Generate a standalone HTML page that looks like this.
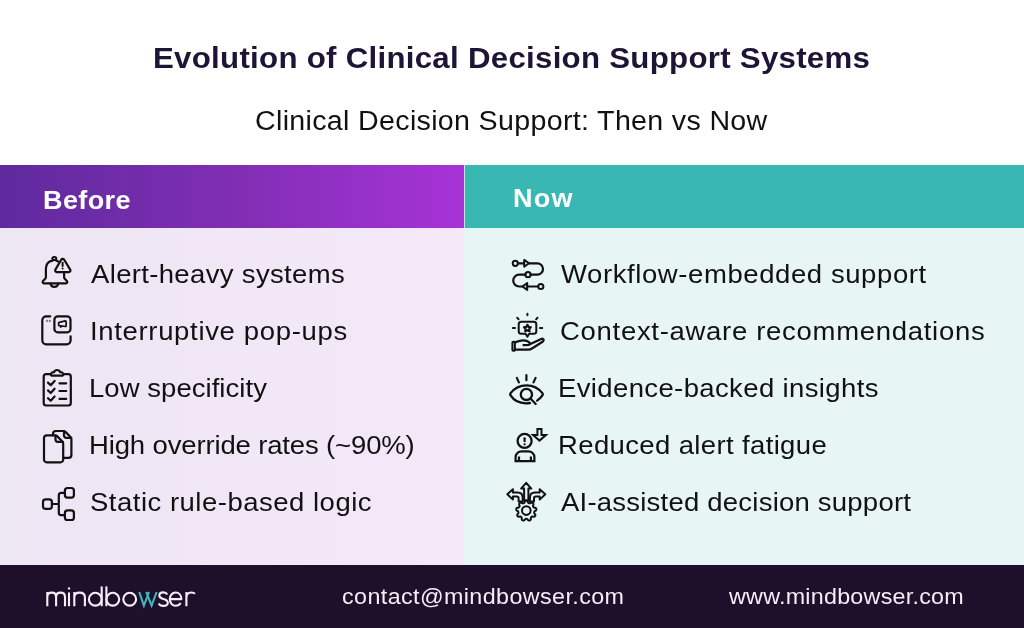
<!DOCTYPE html>
<html>
<head>
<meta charset="utf-8">
<style>
html,body{margin:0;padding:0;}
body{width:1024px;height:628px;overflow:hidden;position:relative;background:#fff;font-family:"Liberation Sans",sans-serif;}
.t{position:absolute;white-space:nowrap;line-height:1;transform-origin:0 0;will-change:transform;}
#hl{position:absolute;left:0;top:165px;width:464px;height:63px;background:linear-gradient(90deg,#5f2a9e 0%,#7f2eb3 50%,#a833d7 100%);}
#hr{position:absolute;left:465px;top:165px;width:559px;height:63px;background:#38b7b3;}
#hdiv{position:absolute;left:464px;top:165px;width:1px;height:63px;background:#c7e3f2;}
#bl{position:absolute;left:0;top:228px;width:464px;height:337px;background:linear-gradient(90deg,#ede6f3 0%,#f5e8f9 100%);}
#br{position:absolute;left:464px;top:228px;width:560px;height:337px;background:#e7f5f5;}
#ft{position:absolute;left:0;top:565px;width:1024px;height:63px;background:#1e0f2a;}
.title{font-size:30px;font-weight:700;color:#1d1535;}
.sub{font-size:27px;color:#111;}
.hd{font-size:26px;font-weight:700;color:#fff;}
.li{font-size:25px;color:#111;}
.fo{font-size:22px;color:#f3eef7;}
svg{position:absolute;left:0;top:0;}
</style>
</head>
<body>
<div id="hl"></div><div id="hr"></div><div id="hdiv"></div>
<div id="bl"></div><div id="br"></div>
<div id="ft"></div>
<div class="t title" style="left:152.92px;top:43px;letter-spacing:0.279px;transform:scaleX(1.04);">Evolution of Clinical Decision Support Systems</div>
<div class="t sub" style="left:254.94px;top:107.5px;letter-spacing:0.299px;transform:scaleX(1.06);">Clinical Decision Support: Then vs Now</div>
<div class="t hd" style="left:42.92px;top:187px;letter-spacing:0.346px;transform:scaleX(1.04);">Before</div>
<div class="t hd" style="left:512.92px;top:185px;letter-spacing:1.24px;transform:scaleX(1.04);">Now</div>
<div class="t li" style="left:91.0px;top:262px;letter-spacing:0.308px;transform:scaleX(1.1);">Alert-heavy systems</div>
<div class="t li" style="left:560.5px;top:262px;letter-spacing:0.534px;transform:scaleX(1.1);">Workflow-embedded support</div>
<div class="t li" style="left:89.5px;top:318.5px;letter-spacing:0.603px;transform:scaleX(1.1);">Interruptive pop-ups</div>
<div class="t li" style="left:559.7px;top:318.5px;letter-spacing:0.636px;transform:scaleX(1.1);">Context-aware recommendations</div>
<div class="t li" style="left:89.3px;top:375.5px;letter-spacing:0.039px;transform:scaleX(1.1);">Low specificity</div>
<div class="t li" style="left:558.3px;top:375.5px;letter-spacing:0.34px;transform:scaleX(1.1);">Evidence-backed insights</div>
<div class="t li" style="left:88.8px;top:432.5px;letter-spacing:-0.131px;transform:scaleX(1.1);">High override rates (~90%)</div>
<div class="t li" style="left:558.3px;top:432.5px;letter-spacing:0.332px;transform:scaleX(1.1);">Reduced alert fatigue</div>
<div class="t li" style="left:89.9px;top:489.5px;letter-spacing:0.455px;transform:scaleX(1.1);">Static rule-based logic</div>
<div class="t li" style="left:560.5px;top:489.5px;letter-spacing:0.202px;transform:scaleX(1.1);">AI-assisted decision support</div>
<div class="t fo" style="left:342.44px;top:586px;letter-spacing:0.366px;transform:scaleX(1.06);">contact@mindbowser.com</div>
<div class="t fo" style="left:729.0px;top:586px;letter-spacing:0.224px;transform:scaleX(1.06);">www.mindbowser.com</div>
<svg width="1024" height="628" viewBox="0 0 1024 628" fill="none" stroke="#111" stroke-width="2.2" stroke-linecap="round" stroke-linejoin="round">
<!-- L1 bell -->
<ellipse cx="54.3" cy="258.5" rx="2" ry="1.6" stroke-width="2"/>
<path d="M52.6 260.6 C48.2 261.4 45.9 264.6 45.9 268.8 L45.9 277.2 C45.9 279.4 42.6 280.2 42.6 282 C42.6 282.9 43.2 283.3 44 283.3 L66 283.3 C66.8 283.3 67.3 282.9 67.3 282 C67.3 280.2 64.1 279.4 64.1 277.2 L64.1 272.9"/>
<path d="M56.1 260.6 C57 260.8 57.7 261.2 58.3 261.7"/>
<path d="M50.5 283.6 A3.9 3.9 0 0 0 58.2 283.6"/>
<path d="M61.2 259.8 L55.4 269.6 C54.7 270.8 55.4 272.1 56.8 272.1 L68.8 272.1 C70.2 272.1 70.9 270.8 70.2 269.6 L64.2 259.8 C63.5 258.6 61.9 258.6 61.2 259.8 Z"/>
<path d="M62.6 262.8 L62.6 265.9" stroke-width="2"/>
<circle cx="62.6" cy="268.4" r="1" fill="#111" stroke="none"/>
<!-- L2 popup -->
<path d="M50.3 316.3 L46.3 316.3 A4 4 0 0 0 42.3 320.3 L42.3 340.3 A4 4 0 0 0 46.3 344.3 L66.6 344.3 A4 4 0 0 0 70.6 340.3 L70.6 336.4"/>
<rect x="54.4" y="316.4" width="16.1" height="15.9" rx="3.4"/>
<path d="M59.2 322.3 L65.3 320.9 Q66.1 320.8 66.1 321.6 L66.1 325.9 Q66.1 326.6 65.3 326.5 L59.2 325.6 Q58.6 325.5 58.6 324.9 L58.6 323 Q58.6 322.4 59.2 322.3 Z M60.4 325.8 L60.7 327.1" stroke-width="1.7"/>
<circle cx="47" cy="320.9" r="0.5" stroke="#777" stroke-width="1.2"/>
<circle cx="49.8" cy="320.9" r="0.5" stroke="#777" stroke-width="1.2"/>
<!-- L3 clipboard -->
<path d="M49.8 374.2 L46.2 374.2 A2.5 2.5 0 0 0 43.7 376.7 L43.7 403 A2.5 2.5 0 0 0 46.2 405.5 L68.3 405.5 A2.5 2.5 0 0 0 70.8 403 L70.8 376.7 A2.5 2.5 0 0 0 68.3 374.2 L64.5 374.2"/>
<path d="M52 375.7 L62.2 375.7 C63.2 375.7 63.6 375 63.4 374.1 C63 372.9 61.9 372.2 60.6 372.2 L60.3 372.2 C59.7 370.8 58.5 370 57.1 370 C55.7 370 54.5 370.8 53.9 372.2 L53.6 372.2 C52.3 372.2 51.2 372.9 50.8 374.1 C50.6 375 51 375.7 52 375.7 Z"/>
<path d="M48 382.6 L50.7 385.2 L54.6 380.9"/>
<path d="M48 390.4 L50.7 393 L54.6 388.7"/>
<path d="M48 398.2 L50.7 400.8 L54.6 396.5"/>
<path d="M59.5 383.3 L66.2 383.3 M59.5 391 L66.2 391 M59.5 398.9 L66.2 398.9"/>
<!-- L4 documents -->
<path d="M53 435.3 L53 433.8 A2.8 2.8 0 0 1 55.8 431 L63.3 431 C64.2 431 65 431.4 65.7 432.1 L70.5 437 C71.1 437.6 71.4 438.4 71.4 439.3 L71.4 455 A2.8 2.8 0 0 1 68.6 457.8 L63.2 457.8"/>
<path d="M64 431.3 L64 435.5 A2.3 2.3 0 0 0 66.3 437.8 L71.2 437.8"/>
<path d="M46.8 435.3 L54.8 435.3 C55.8 435.3 56.6 435.7 57.3 436.4 L62.3 441.5 C62.9 442.1 63.2 442.9 63.2 443.8 L63.2 459.5 A2.8 2.8 0 0 1 60.4 462.3 L46.8 462.3 A2.8 2.8 0 0 1 44 459.5 L44 438.1 A2.8 2.8 0 0 1 46.8 435.3 Z"/>
<path d="M55.5 435.6 L55.5 439.6 A2.3 2.3 0 0 0 57.8 441.9 L63 441.9"/>
<!-- L5 hierarchy -->
<rect x="43" y="499.3" width="8.9" height="9.6" rx="2.6"/>
<rect x="64.9" y="488" width="9" height="9.6" rx="2.6"/>
<rect x="64.9" y="510.4" width="9" height="9.6" rx="2.6"/>
<path d="M51.9 504 L58.8 504 M64.9 492.8 L61.2 492.8 A2.4 2.4 0 0 0 58.8 495.2 L58.8 512.8 A2.4 2.4 0 0 0 61.2 515.2 L64.9 515.2"/>
<!-- R1 workflow -->
<circle cx="515.3" cy="263.3" r="2.6" stroke-width="2"/>
<path d="M517.9 263.3 L523.9 263.3"/>
<path d="M524.2 259.9 L529 263.3 L524.2 266.7 Z" stroke-width="2"/>
<path d="M529 263.3 L537.3 263.3 A5.7 5.7 0 0 1 537.3 274.7 L530.6 274.7"/>
<circle cx="528" cy="274.7" r="2.6" stroke-width="2"/>
<path d="M525.4 274.7 L519.1 274.7 A5.9 5.9 0 0 0 519.1 286.5 L522.4 286.5"/>
<path d="M527.2 283.1 L522.4 286.5 L527.2 289.9 Z" stroke-width="2"/>
<path d="M527.2 286.5 L538.2 286.5"/>
<circle cx="540.8" cy="286.5" r="2.6" stroke-width="2"/>
<!-- R2 hand -->
<path d="M527.4 313.8 L527.4 315.3 M517.2 317.7 L518.6 319.3 M537.5 317.7 L536.1 319.3 M512.9 327.9 L515 327.9 M540 327.9 L542.2 327.9" stroke-width="2"/>
<path d="M521.2 321.8 L533.8 321.8 A2.5 2.5 0 0 1 536.3 324.3 L536.3 331.2 A2.5 2.5 0 0 1 533.8 333.7 L529.2 333.7 L527.4 336.6 L525.6 333.7 L521.2 333.7 A2.5 2.5 0 0 1 518.7 331.2 L518.7 324.3 A2.5 2.5 0 0 1 521.2 321.8 Z" stroke-width="2"/>
<path d="M527.40 324.80 L528.52 326.86 L530.82 327.29 L529.21 328.99 L529.52 331.31 L527.40 330.30 L525.28 331.31 L525.59 328.99 L523.98 327.29 L526.28 326.86 Z" stroke-width="2.2"/>
<rect x="512.4" y="341.8" width="2.5" height="9" rx="0.8" stroke-width="2"/>
<path d="M514.9 342.4 C518 341.2 520.5 340.3 523.2 340.3 C526 340.3 528.6 341.5 529.7 342.9 C530.3 343.7 530 344.7 528.8 344.8 L523.5 345.1 M528.8 344.8 L541.2 338.9 C542.6 338.2 544 339 543.6 340.4 C543.4 341.1 542.9 341.6 542.2 342 L532.8 348 C531.4 348.9 529.9 349.7 528.2 349.7 L514.9 349.7" stroke-width="2.2"/>
<!-- R3 eye -->
<path d="M526.4 375.2 L526.4 380.2 M516.8 377.9 L518.9 382.4 M535.6 377.9 L533.5 382.4"/>
<path d="M529.9 403 C520.5 404.3 513.8 400.5 510.4 395.2 C510.1 394.6 510.1 394 510.4 393.4 C514.3 388.3 519.7 385.4 526.5 385.4 C533.3 385.4 538.7 388.3 542.6 393.4 C542.9 394 542.9 394.6 542.6 395.2 C541.2 397.4 539.3 399.2 537.1 400.6" stroke-width="2.3"/>
<circle cx="526.4" cy="394.4" r="5.6" stroke-width="2.3"/>
<path d="M530.5 398.6 L535.7 404"/>
<!-- R4 person -->
<circle cx="524.6" cy="440.9" r="7" stroke-width="2.3"/>
<path d="M524.6 438.3 L524.6 441.2" stroke-width="2.2"/>
<circle cx="524.6" cy="444.3" r="1.15" fill="#111" stroke="none"/>
<path d="M515.6 461.2 L515.6 457.3 A6 6 0 0 1 521.6 451.3 L528.4 451.3 A6 6 0 0 1 534.4 457.3 L534.4 461.2 Z" stroke-linejoin="miter" stroke-linecap="butt"/>
<path d="M519 456.5 L519 461 M530.9 456.5 L530.9 461" stroke-linecap="butt"/>
<path d="M537.4 428.9 L541.5 428.9 L541.5 434.9 L546 434.9 L539.5 440.6 L533 434.9 L537.4 434.9 Z" stroke-linejoin="miter" stroke-width="2"/>
<!-- R5 gear arrows -->
<path d="M526.30 500.60 L526.48 500.61 L526.65 500.64 L526.83 500.69 L527.00 500.76 L527.17 500.84 L527.33 500.95 L527.49 501.09 L527.64 501.25 L527.78 501.46 L527.88 501.84 L527.97 502.22 L528.08 502.43 L528.19 502.60 L528.31 502.75 L528.42 502.87 L528.54 502.98 L528.66 503.08 L528.78 503.16 L528.91 503.23 L529.04 503.28 L529.17 503.32 L529.31 503.35 L529.45 503.37 L529.61 503.37 L529.77 503.36 L529.94 503.34 L530.12 503.30 L530.32 503.25 L530.54 503.16 L530.85 502.92 L531.17 502.69 L531.41 502.62 L531.63 502.59 L531.84 502.59 L532.03 502.61 L532.22 502.65 L532.39 502.71 L532.56 502.79 L532.71 502.88 L532.86 502.99 L532.99 503.11 L533.10 503.24 L533.21 503.39 L533.29 503.56 L533.37 503.73 L533.42 503.92 L533.46 504.13 L533.47 504.35 L533.44 504.59 L533.27 504.95 L533.09 505.30 L533.04 505.53 L533.02 505.74 L533.02 505.92 L533.02 506.09 L533.04 506.25 L533.07 506.40 L533.11 506.54 L533.16 506.68 L533.23 506.80 L533.30 506.92 L533.39 507.03 L533.49 507.13 L533.61 507.24 L533.74 507.33 L533.88 507.42 L534.05 507.51 L534.23 507.59 L534.46 507.67 L534.85 507.69 L535.25 507.72 L535.47 507.82 L535.66 507.94 L535.82 508.07 L535.95 508.21 L536.07 508.36 L536.17 508.52 L536.25 508.69 L536.30 508.86 L536.35 509.03 L536.37 509.21 L536.37 509.38 L536.35 509.57 L536.31 509.75 L536.26 509.93 L536.18 510.11 L536.07 510.29 L535.94 510.46 L535.76 510.63 L535.40 510.80 L535.04 510.95 L534.85 511.10 L534.70 511.24 L534.58 511.38 L534.48 511.52 L534.39 511.65 L534.31 511.78 L534.25 511.92 L534.21 512.05 L534.18 512.19 L534.16 512.33 L534.16 512.47 L534.17 512.62 L534.19 512.77 L534.23 512.92 L534.28 513.09 L534.35 513.26 L534.44 513.44 L534.56 513.65 L534.85 513.91 L535.13 514.19 L535.24 514.41 L535.31 514.62 L535.34 514.83 L535.36 515.02 L535.35 515.21 L535.32 515.40 L535.28 515.57 L535.21 515.74 L535.13 515.90 L535.04 516.05 L534.92 516.19 L534.79 516.32 L534.65 516.43 L534.49 516.53 L534.31 516.62 L534.11 516.69 L533.90 516.74 L533.65 516.75 L533.27 516.65 L532.90 516.53 L532.66 516.53 L532.45 516.54 L532.27 516.57 L532.10 516.60 L531.95 516.65 L531.81 516.70 L531.67 516.77 L531.55 516.84 L531.44 516.93 L531.34 517.02 L531.25 517.13 L531.16 517.25 L531.08 517.38 L531.01 517.52 L530.94 517.68 L530.88 517.86 L530.83 518.06 L530.80 518.29 L530.85 518.68 L530.89 519.08 L530.83 519.31 L530.74 519.52 L530.64 519.70 L530.52 519.86 L530.40 520.00 L530.26 520.12 L530.11 520.23 L529.95 520.31 L529.79 520.38 L529.62 520.44 L529.44 520.47 L529.26 520.48 L529.08 520.48 L528.89 520.45 L528.69 520.41 L528.50 520.33 L528.31 520.23 L528.11 520.09 L527.88 519.76 L527.67 519.43 L527.49 519.27 L527.33 519.15 L527.17 519.05 L527.02 518.98 L526.87 518.91 L526.72 518.86 L526.58 518.83 L526.44 518.81 L526.30 518.80 L526.16 518.81 L526.02 518.83 L525.88 518.86 L525.73 518.91 L525.58 518.98 L525.43 519.05 L525.27 519.15 L525.11 519.27 L524.93 519.43 L524.72 519.76 L524.49 520.09 L524.29 520.23 L524.10 520.33 L523.91 520.41 L523.71 520.45 L523.52 520.48 L523.34 520.48 L523.16 520.47 L522.98 520.44 L522.81 520.38 L522.65 520.31 L522.49 520.23 L522.34 520.12 L522.20 520.00 L522.08 519.86 L521.96 519.70 L521.86 519.52 L521.77 519.31 L521.71 519.08 L521.75 518.68 L521.80 518.29 L521.77 518.06 L521.72 517.86 L521.66 517.68 L521.59 517.52 L521.52 517.38 L521.44 517.25 L521.35 517.13 L521.26 517.02 L521.16 516.93 L521.05 516.84 L520.93 516.77 L520.79 516.70 L520.65 516.65 L520.50 516.60 L520.33 516.57 L520.15 516.54 L519.94 516.53 L519.70 516.53 L519.33 516.65 L518.95 516.75 L518.70 516.74 L518.49 516.69 L518.29 516.62 L518.11 516.53 L517.95 516.43 L517.81 516.32 L517.68 516.19 L517.56 516.05 L517.47 515.90 L517.39 515.74 L517.32 515.57 L517.28 515.40 L517.25 515.21 L517.24 515.02 L517.26 514.83 L517.29 514.62 L517.36 514.41 L517.47 514.19 L517.75 513.91 L518.04 513.65 L518.16 513.44 L518.25 513.26 L518.32 513.09 L518.37 512.92 L518.41 512.77 L518.43 512.62 L518.44 512.47 L518.44 512.33 L518.42 512.19 L518.39 512.05 L518.35 511.92 L518.29 511.78 L518.21 511.65 L518.12 511.52 L518.02 511.38 L517.90 511.24 L517.75 511.10 L517.56 510.95 L517.20 510.80 L516.84 510.63 L516.66 510.46 L516.53 510.29 L516.42 510.11 L516.34 509.93 L516.29 509.75 L516.25 509.57 L516.23 509.38 L516.23 509.21 L516.25 509.03 L516.30 508.86 L516.35 508.69 L516.43 508.52 L516.53 508.36 L516.65 508.21 L516.78 508.07 L516.94 507.94 L517.13 507.82 L517.35 507.72 L517.75 507.69 L518.14 507.67 L518.37 507.59 L518.55 507.51 L518.72 507.42 L518.86 507.33 L518.99 507.24 L519.11 507.13 L519.21 507.03 L519.30 506.92 L519.37 506.80 L519.44 506.68 L519.49 506.54 L519.53 506.40 L519.56 506.25 L519.58 506.09 L519.58 505.92 L519.58 505.74 L519.56 505.53 L519.51 505.30 L519.33 504.95 L519.16 504.59 L519.13 504.35 L519.14 504.13 L519.18 503.92 L519.23 503.73 L519.31 503.56 L519.39 503.39 L519.50 503.24 L519.61 503.11 L519.74 502.99 L519.89 502.88 L520.04 502.79 L520.21 502.71 L520.38 502.65 L520.57 502.61 L520.76 502.59 L520.97 502.59 L521.19 502.62 L521.43 502.69 L521.75 502.92 L522.06 503.16 L522.28 503.25 L522.48 503.30 L522.66 503.34 L522.83 503.36 L522.99 503.37 L523.15 503.37 L523.29 503.35 L523.43 503.32 L523.56 503.28 L523.69 503.23 L523.82 503.16 L523.94 503.08 L524.06 502.98 L524.18 502.87 L524.29 502.75 L524.41 502.60 L524.52 502.43 L524.63 502.22 L524.72 501.84 L524.82 501.46 L524.96 501.25 L525.11 501.09 L525.27 500.95 L525.43 500.84 L525.60 500.76 L525.77 500.69 L525.95 500.64 L526.12 500.61 L526.30 500.60 Z" stroke-width="2"/>
<circle cx="526.3" cy="510.6" r="4.3" stroke-width="2"/>
<path fill="#e7f5f5" stroke-width="2" d="M526.2 482.8 L531.3 488.6 L528.4 488.6 L528.4 500.2 L524.1 500.2 L524.1 488.6 L521.1 488.6 Z"/>
<path fill="#e7f5f5" stroke-width="2" d="M507.3 494.2 L512.9 489.2 L512.9 492.6 L517.5 492.6 C520.6 492.6 522.7 494.6 522.7 497.6 L522.7 501.5 L518.6 501.5 L518.6 498.4 C518.6 497.3 517.8 496.6 516.8 496.6 L512.9 496.6 L512.9 499.6 Z"/>
<path fill="#e7f5f5" stroke-width="2" d="M545.3 494.2 L539.7 489.2 L539.7 492.6 L535.1 492.6 C532 492.6 529.9 494.6 529.9 497.6 L529.9 501.5 L534 501.5 L534 498.4 C534 497.3 534.8 496.6 535.8 496.6 L539.7 496.6 L539.7 499.6 Z"/>
<g stroke="#f4eff8" stroke-width="2.1" stroke-linecap="butt" fill="none">
<path d="M47.3 592 L47.3 606.2 M47.3 597 C47.3 594 49.2 592.6 51.7 592.6 C54.2 592.6 56.1 594 56.1 597 L56.1 606.2 M56.1 597 C56.1 594 58 592.6 60.5 592.6 C63 592.6 65 594 65 597 L65 606.2"/>
<path d="M69 592.4 L69 606.2"/>
<circle cx="69" cy="588.4" r="1.2" fill="#f4eff8" stroke="none"/>
<path d="M74.3 592 L74.3 606.2 M74.3 597.4 C74.3 594.2 76.6 592.6 79.6 592.6 C82.6 592.6 84.9 594.2 84.9 597.4 L84.9 606.2"/>
<circle cx="95.3" cy="599.2" r="6.4"/>
<path d="M101.7 586.4 L101.7 606.2"/>
<path d="M106.4 586.4 L106.4 606.2"/>
<circle cx="112.8" cy="599.2" r="6.4"/>
<circle cx="129.7" cy="599.2" r="6.4"/>
<path d="M139.2 592 L143.9 605.6 L149 592 M146.2 592 L151.6 605.6 L156.6 592" stroke="#3fb6bd" stroke-linejoin="miter"/>
<path d="M167.3 594.4 C166.5 593 165 592.4 163.3 592.4 C160.8 592.4 159.3 593.8 159.3 595.6 C159.3 597.6 161 598.4 163.3 599 C165.8 599.6 167.8 600.6 167.8 602.8 C167.8 604.8 165.8 605.9 163.3 605.9 C161.2 605.9 159.5 605 158.7 603.5"/>
<path d="M169.8 599.1 L181.4 599.1 C181.4 595.3 178.9 592.5 175.6 592.5 C172.3 592.5 169.8 595.5 169.8 599.1 C169.8 602.8 172.3 605.8 175.6 605.8 C177.8 605.8 179.6 604.7 180.7 603"/>
<path d="M186.4 592 L186.4 606.2 M186.4 597.6 C186.4 594.3 188.6 592.5 191.5 592.5 C192.9 592.5 194.2 593 195 593.8"/>
</g>

</svg>
</body>
</html>
